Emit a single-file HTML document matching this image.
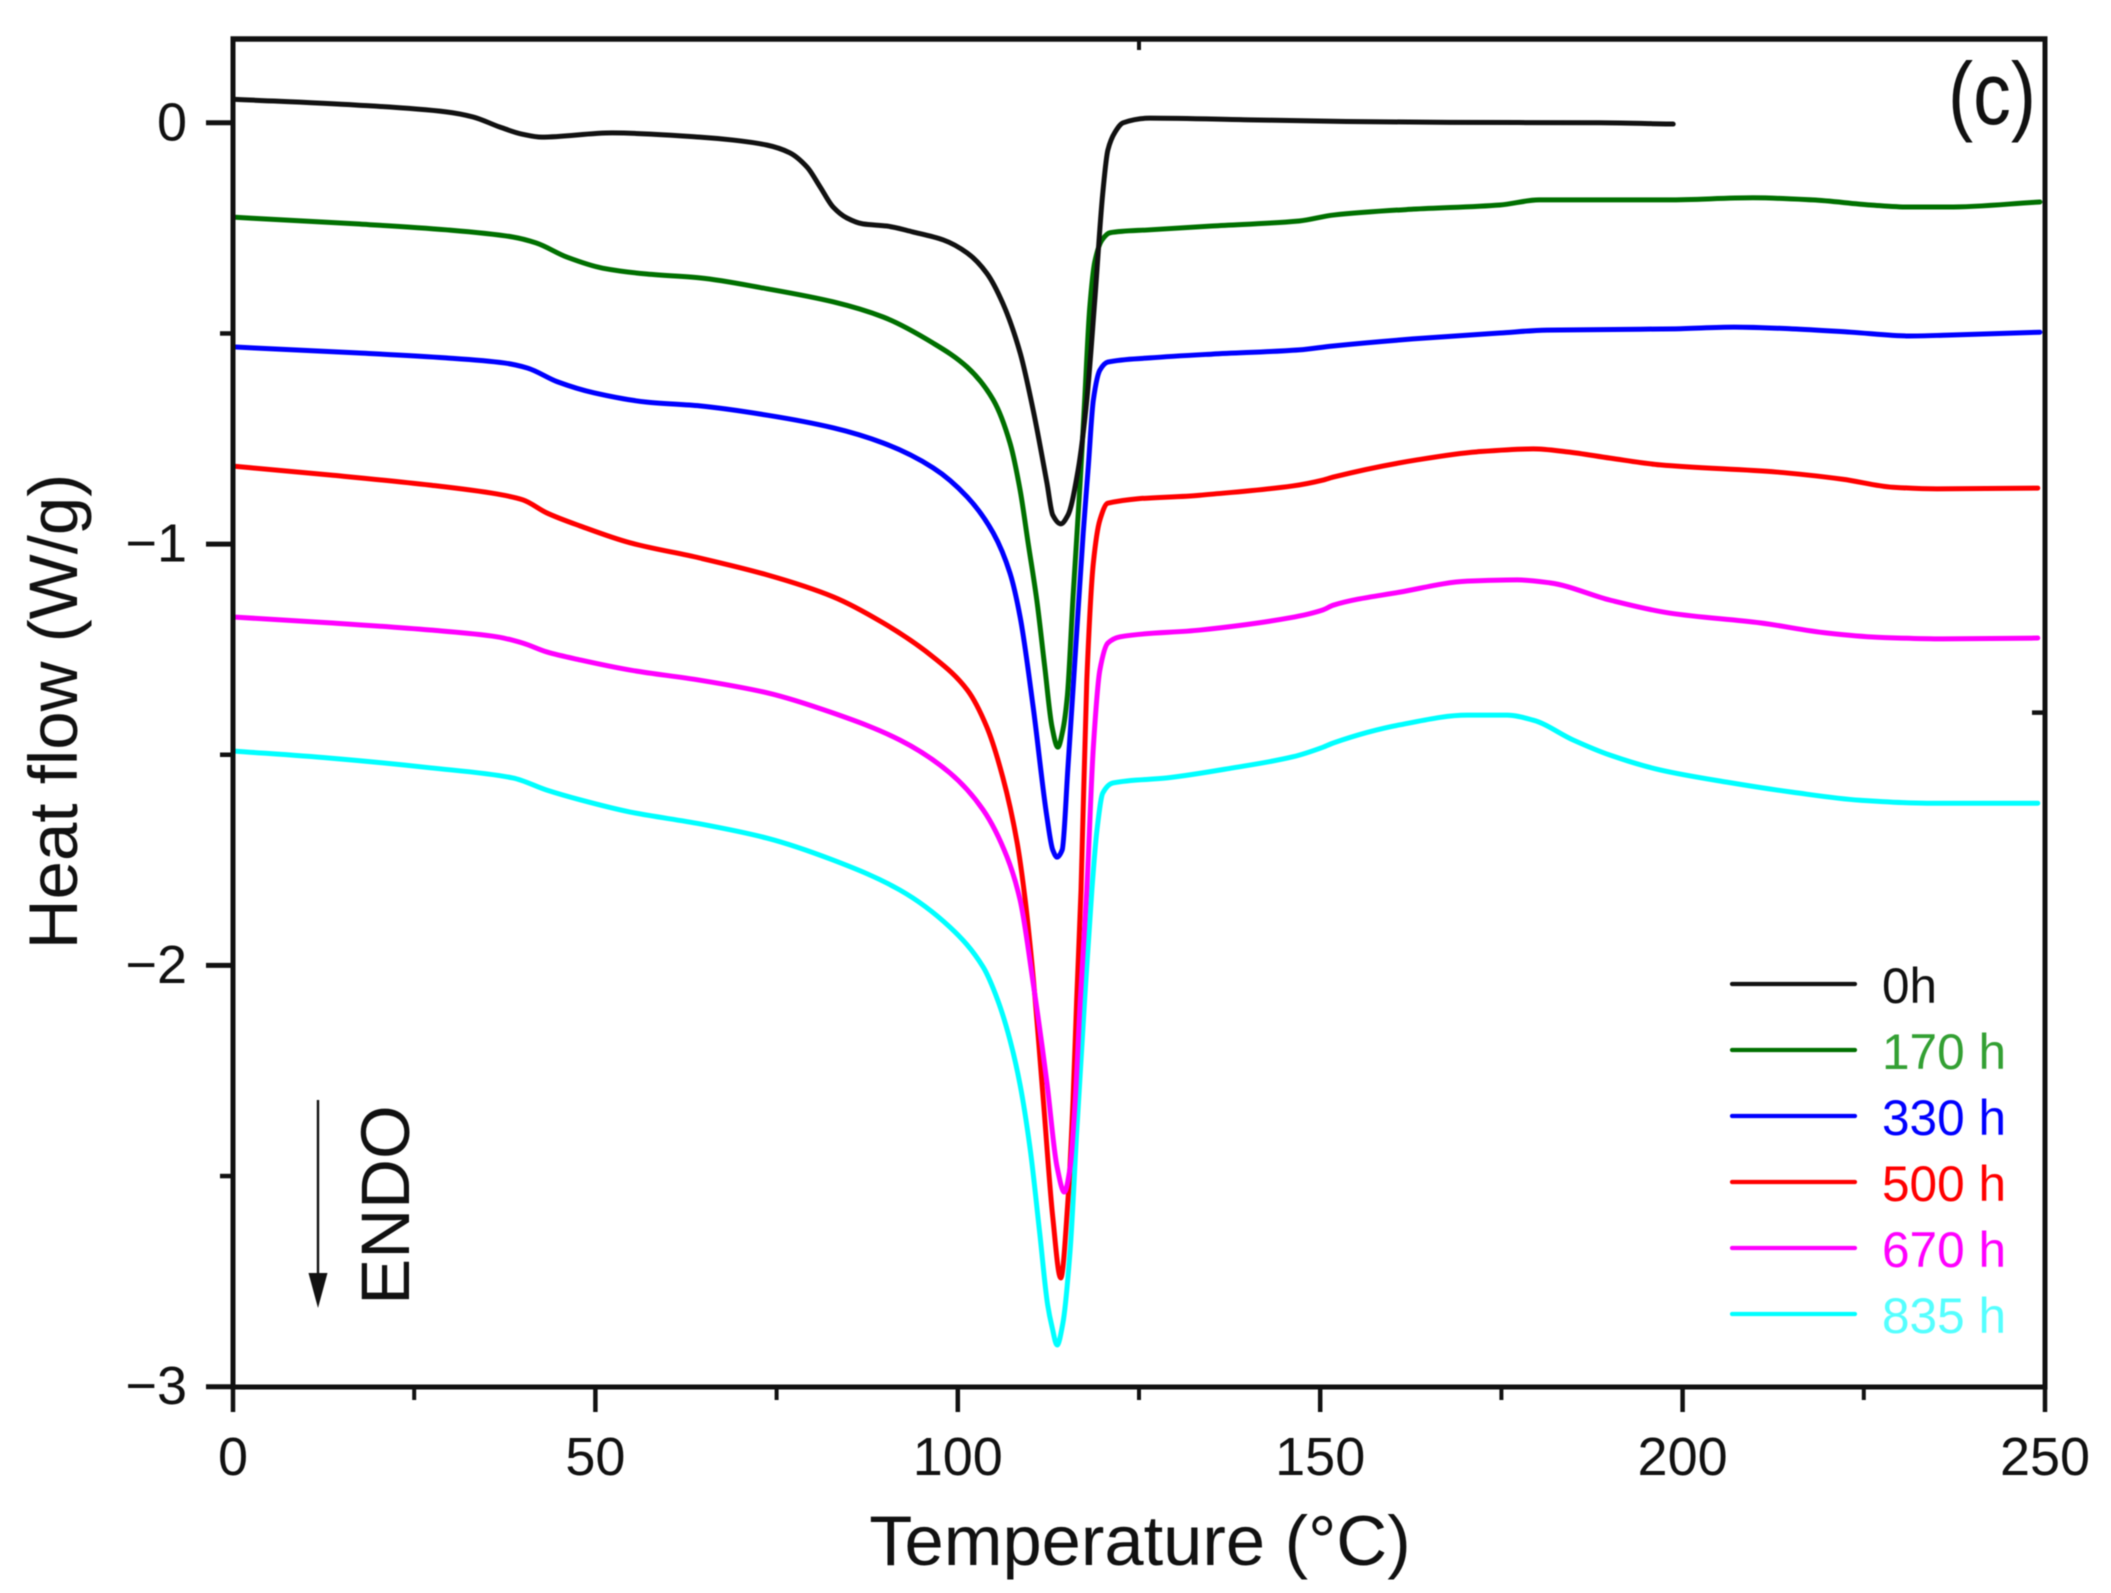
<!DOCTYPE html>
<html lang="en">
<head>
<meta charset="utf-8">
<title>DSC heat flow curves</title>
<style>
  html, body { margin: 0; padding: 0; background: #ffffff; }
  #chart { display: block; width: 2111px; height: 1593px; filter: blur(0.6px); }
  text { font-family: "Liberation Sans", Arial, sans-serif; }
</style>
</head>
<body>
<svg id="chart" xmlns="http://www.w3.org/2000/svg" width="2111" height="1593" viewBox="0 0 2111 1593">
  <rect x="0" y="0" width="2111" height="1593" fill="#ffffff"/>
  <g id="series-layer"></g>
  <g id="axis-layer"></g>

  <text x="77" y="711.5" transform="rotate(-90 77 711.5)" text-anchor="middle" font-size="69" fill="#111">Heat flow (W/g)</text>
  <text x="1140" y="1565" text-anchor="middle" font-size="70.5" fill="#111">Temperature (°C)</text>
  <text x="1948" y="124" font-size="88" textLength="88" lengthAdjust="spacingAndGlyphs" fill="#111">(c)</text>

  <line x1="318" y1="1100" x2="318" y2="1280" stroke="#111" stroke-width="2.4"/>
  <polygon points="308.5,1273 327.5,1273 318,1308" fill="#111"/>
  <text x="409" y="1205" transform="rotate(-90 409 1205)" text-anchor="middle" font-size="69" fill="#111">ENDO</text>

  <g>
    <line x1="1732" y1="984" x2="1855" y2="984" stroke="#111111" stroke-width="4.2" stroke-linecap="round"/>
    <text x="1882" y="1003" font-size="50" textLength="55" lengthAdjust="spacingAndGlyphs" fill="#111111">0h</text>
    <line x1="1732" y1="1050" x2="1855" y2="1050" stroke="#007000" stroke-width="4.2" stroke-linecap="round"/>
    <text x="1882" y="1069" font-size="50" textLength="124" lengthAdjust="spacingAndGlyphs" fill="#33a033">170 h</text>
    <line x1="1732" y1="1116" x2="1855" y2="1116" stroke="#0000ff" stroke-width="4.2" stroke-linecap="round"/>
    <text x="1882" y="1135" font-size="50" textLength="124" lengthAdjust="spacingAndGlyphs" fill="#0000ff">330 h</text>
    <line x1="1732" y1="1182" x2="1855" y2="1182" stroke="#ff0000" stroke-width="4.2" stroke-linecap="round"/>
    <text x="1882" y="1201" font-size="50" textLength="124" lengthAdjust="spacingAndGlyphs" fill="#ff0000">500 h</text>
    <line x1="1732" y1="1248" x2="1855" y2="1248" stroke="#ff00ff" stroke-width="4.2" stroke-linecap="round"/>
    <text x="1882" y="1267" font-size="50" textLength="124" lengthAdjust="spacingAndGlyphs" fill="#ff00ff">670 h</text>
    <line x1="1732" y1="1314" x2="1855" y2="1314" stroke="#00ffff" stroke-width="4.2" stroke-linecap="round"/>
    <text x="1882" y="1333" font-size="50" textLength="124" lengthAdjust="spacingAndGlyphs" fill="#55ffff">835 h</text>
  </g>
</svg>

<script>
const xMajorTicks = [0, 50, 100, 150, 200, 250];
const xMinorTicks = [25, 75, 125, 175, 225];
const yMajorTicks = [0, -1, -2, -3];
const yMinorTicks = [-0.5, -1.5, -2.5];

const temp0h = [0,17.1,29.4,33.1,36.8,39.9,42.6,52.3,64.4,69.0,73.7,76.8,79.2,81.0,82.8,84.7,86.9,90.2,93.8,98.0,101.3,104.0,106.2,108.6,110.4,112.3,113.1,114.2,115.2,116.6,117.8,118.9,120.0,120.7,121.7,122.8,126.5,140.3,153.6,167.9,188.6,198.7];
const flow0h = [0.056,0.042,0.026,0.014,-0.010,-0.027,-0.034,-0.024,-0.034,-0.041,-0.053,-0.071,-0.105,-0.152,-0.200,-0.226,-0.240,-0.245,-0.259,-0.278,-0.309,-0.357,-0.428,-0.546,-0.682,-0.855,-0.931,-0.952,-0.931,-0.824,-0.658,-0.421,-0.167,-0.065,-0.022,0,0.011,0.007,0.003,0.001,0,-0.003];

const temp170h = [0,17.1,29.4,38.6,41.8,46.1,51.0,57.1,64.4,73.7,82.8,89.7,96.6,101.3,104.9,107.2,108.6,109.7,110.9,112.0,113.0,113.8,114.5,115.1,115.9,116.9,117.5,118.2,118.9,119.9,121.0,126.5,135.1,147.1,151.8,162.8,174.8,180.2,198.0,209.7,217.9,225.9,231.2,236.6,249.3];
const flow170h = [-0.224,-0.240,-0.254,-0.271,-0.285,-0.319,-0.345,-0.359,-0.368,-0.394,-0.425,-0.461,-0.523,-0.580,-0.658,-0.760,-0.872,-0.997,-1.133,-1.292,-1.434,-1.482,-1.441,-1.363,-1.125,-0.848,-0.660,-0.440,-0.330,-0.278,-0.261,-0.254,-0.245,-0.233,-0.219,-0.205,-0.195,-0.183,-0.183,-0.178,-0.183,-0.195,-0.200,-0.200,-0.188];

const temp330h = [0,17.1,29.4,37.4,40.6,44.8,49.8,57.1,64.4,73.7,82.8,89.7,96.6,101.3,104.9,107.2,108.6,110.4,112.3,113.1,113.7,114.4,115.2,116.4,117.3,118.0,118.7,119.6,120.7,126.5,135.1,147.1,151.6,162.8,174.8,181.3,199.0,207.1,215.1,223.2,231.2,236.6,249.3];
const flow330h = [-0.532,-0.546,-0.558,-0.570,-0.582,-0.615,-0.641,-0.663,-0.672,-0.694,-0.724,-0.760,-0.819,-0.888,-0.974,-1.069,-1.173,-1.387,-1.648,-1.726,-1.743,-1.726,-1.529,-1.211,-0.974,-0.817,-0.658,-0.587,-0.568,-0.558,-0.549,-0.539,-0.530,-0.513,-0.499,-0.492,-0.489,-0.485,-0.489,-0.497,-0.506,-0.504,-0.497];

const temp500h = [0,13.4,27.2,36.4,40.0,43.3,47.9,54.8,64.4,73.7,82.8,89.7,96.6,101.3,104.0,106.2,108.2,109.3,110.4,111.8,113.1,114.2,115.2,115.9,116.4,117.0,117.8,118.7,119.6,120.7,133.4,146.2,150.4,151.8,163.4,171.6,179.4,184.1,190.0,196.9,213.0,222.1,229.0,235.1,249.0];
const flow500h = [-0.815,-0.836,-0.860,-0.881,-0.895,-0.926,-0.957,-0.997,-1.033,-1.073,-1.125,-1.187,-1.268,-1.346,-1.434,-1.553,-1.710,-1.845,-2.028,-2.320,-2.597,-2.742,-2.557,-2.320,-2.082,-1.821,-1.323,-1.045,-0.943,-0.903,-0.884,-0.862,-0.848,-0.841,-0.800,-0.781,-0.774,-0.781,-0.796,-0.812,-0.829,-0.846,-0.865,-0.869,-0.867];

const temp670h = [0,13.4,27.2,36.4,40.0,43.3,47.9,54.8,64.4,73.7,82.8,92.0,98.9,103.5,106.8,108.6,110.4,112.3,113.7,114.7,115.5,116.2,116.9,117.8,118.7,119.6,120.7,122.4,133.4,145.8,150.4,151.8,161.0,170.3,177.2,181.7,190.0,198.3,210.7,219.9,226.8,235.9,249.0];
const flow670h = [-1.173,-1.187,-1.204,-1.220,-1.235,-1.256,-1.275,-1.299,-1.323,-1.353,-1.401,-1.465,-1.543,-1.631,-1.743,-1.845,-2.042,-2.279,-2.479,-2.538,-2.479,-2.320,-2.082,-1.821,-1.482,-1.299,-1.235,-1.220,-1.204,-1.175,-1.156,-1.145,-1.114,-1.088,-1.085,-1.092,-1.133,-1.164,-1.187,-1.211,-1.221,-1.225,-1.223];

const temp835h = [0,13.4,27.2,38.6,43.3,47.9,54.8,64.4,73.7,82.8,92.0,98.9,103.5,105.5,107.2,108.6,110.0,111.3,112.4,113.0,113.7,114.5,115.5,116.4,117.5,118.5,119.2,120.0,121.4,128.9,138.0,146.2,150.4,151.8,161.0,170.3,175.8,179.4,184.9,190.0,196.9,206.1,215.2,224.5,233.7,249.0];
const flow835h = [-1.491,-1.508,-1.531,-1.555,-1.584,-1.607,-1.636,-1.664,-1.698,-1.750,-1.821,-1.909,-2.004,-2.082,-2.177,-2.284,-2.438,-2.635,-2.806,-2.858,-2.901,-2.849,-2.676,-2.398,-2.082,-1.821,-1.679,-1.591,-1.567,-1.555,-1.531,-1.505,-1.482,-1.472,-1.429,-1.406,-1.406,-1.418,-1.465,-1.501,-1.536,-1.565,-1.589,-1.608,-1.615,-1.615];

const X0 = 233, X1 = 2045, Y_ZERO = 122.8, Y_UNIT = 421.3;
const TOP = 39, BOTTOM = 1387;
const NS = 'http://www.w3.org/2000/svg';

function xScale(t) { return X0 + (t / 250) * (X1 - X0); }
function yScale(v) { return Y_ZERO - v * Y_UNIT; }

function make(tag, attrs, parent) {
  const el = document.createElementNS(NS, tag);
  for (const k in attrs) el.setAttribute(k, attrs[k]);
  parent.appendChild(el);
  return el;
}

function monotonePath(ts, vs) {
  const x = ts.map(xScale), y = vs.map(yScale), n = x.length;
  const h = [], d = [], m = new Array(n);
  for (let i = 0; i < n - 1; i++) {
    h[i] = x[i + 1] - x[i];
    d[i] = (y[i + 1] - y[i]) / h[i];
  }
  m[0] = d[0];
  m[n - 1] = d[n - 2];
  for (let i = 1; i < n - 1; i++) {
    if (d[i - 1] * d[i] <= 0) { m[i] = 0; continue; }
    const w1 = 2 * h[i] + h[i - 1], w2 = h[i] + 2 * h[i - 1];
    m[i] = (w1 + w2) / (w1 / d[i - 1] + w2 / d[i]);
  }
  let p = 'M' + x[0].toFixed(2) + ' ' + y[0].toFixed(2);
  for (let i = 0; i < n - 1; i++) {
    p += ' C' + (x[i] + h[i] / 3).toFixed(2) + ' ' + (y[i] + m[i] * h[i] / 3).toFixed(2) +
         ' ' + (x[i + 1] - h[i] / 3).toFixed(2) + ' ' + (y[i + 1] - m[i + 1] * h[i] / 3).toFixed(2) +
         ' ' + x[i + 1].toFixed(2) + ' ' + y[i + 1].toFixed(2);
  }
  return p;
}

const seriesLayer = document.getElementById('series-layer');
const axisLayer = document.getElementById('axis-layer');

function drawSeries(name, temps, flows, color) {
  const path = make('path', { d: monotonePath(temps, flows), fill: 'none', stroke: color, 'stroke-width': 5, 'stroke-linejoin': 'round', 'stroke-linecap': 'round' }, seriesLayer);
  
  
}

drawSeries('curve-170h', temp170h, flow170h, '#007000');
drawSeries('curve-0h', temp0h, flow0h, '#111111');
drawSeries('curve-330h', temp330h, flow330h, '#0000ff');
drawSeries('curve-835h', temp835h, flow835h, '#00ffff');
drawSeries('curve-500h', temp500h, flow500h, '#ff0000');
drawSeries('curve-670h', temp670h, flow670h, '#ff00ff');

function drawLine(name, x1, y1, x2, y2, w) {
  const l = make('line', { x1: x1, y1: y1, x2: x2, y2: y2, stroke: '#111', 'stroke-width': w }, axisLayer);
  
  
}

function drawLabel(name, x, y, anchor, str) {
  const t = make('text', { x: x, y: y, 'text-anchor': anchor, 'font-size': 54, fill: '#111' }, axisLayer);
  t.textContent = str;
  
  
}

drawLine('axis-top', X0 - 2.5, TOP, X1 + 2.5, TOP, 5.5);
drawLine('axis-bottom', X0 - 2.5, BOTTOM, X1 + 2.5, BOTTOM, 5);
drawLine('axis-left', X0, TOP - 2.5, X0, BOTTOM, 5);
drawLine('axis-right', X1, TOP - 2.5, X1, BOTTOM, 5);

xMajorTicks.forEach(function (t) {
  drawLine('x-major-tick-' + t, xScale(t), BOTTOM, xScale(t), 1412, 4.5);
  drawLabel('x-tick-label-' + t, xScale(t), 1475, 'middle', String(t));
});
xMinorTicks.forEach(function (t) {
  drawLine('x-minor-tick-' + t, xScale(t), BOTTOM, xScale(t), 1400, 4);
});
yMajorTicks.forEach(function (v) {
  drawLine('y-major-tick-' + Math.abs(v), 206, yScale(v), X0, yScale(v), 5);
  drawLabel('y-tick-label-' + Math.abs(v), 187, yScale(v) + 17.5, 'end', v < 0 ? '\u2212' + Math.abs(v) : String(v));
});
yMinorTicks.forEach(function (v) {
  drawLine('y-minor-tick-' + Math.abs(v), 220, yScale(v), X0, yScale(v), 4.5);
});

drawLine('top-inner-tick', xScale(125), TOP, xScale(125), 50, 4);
drawLine('right-inner-tick', 2032, yScale(-1.4), X1, yScale(-1.4), 4.5);
</script>
</body>
</html>
